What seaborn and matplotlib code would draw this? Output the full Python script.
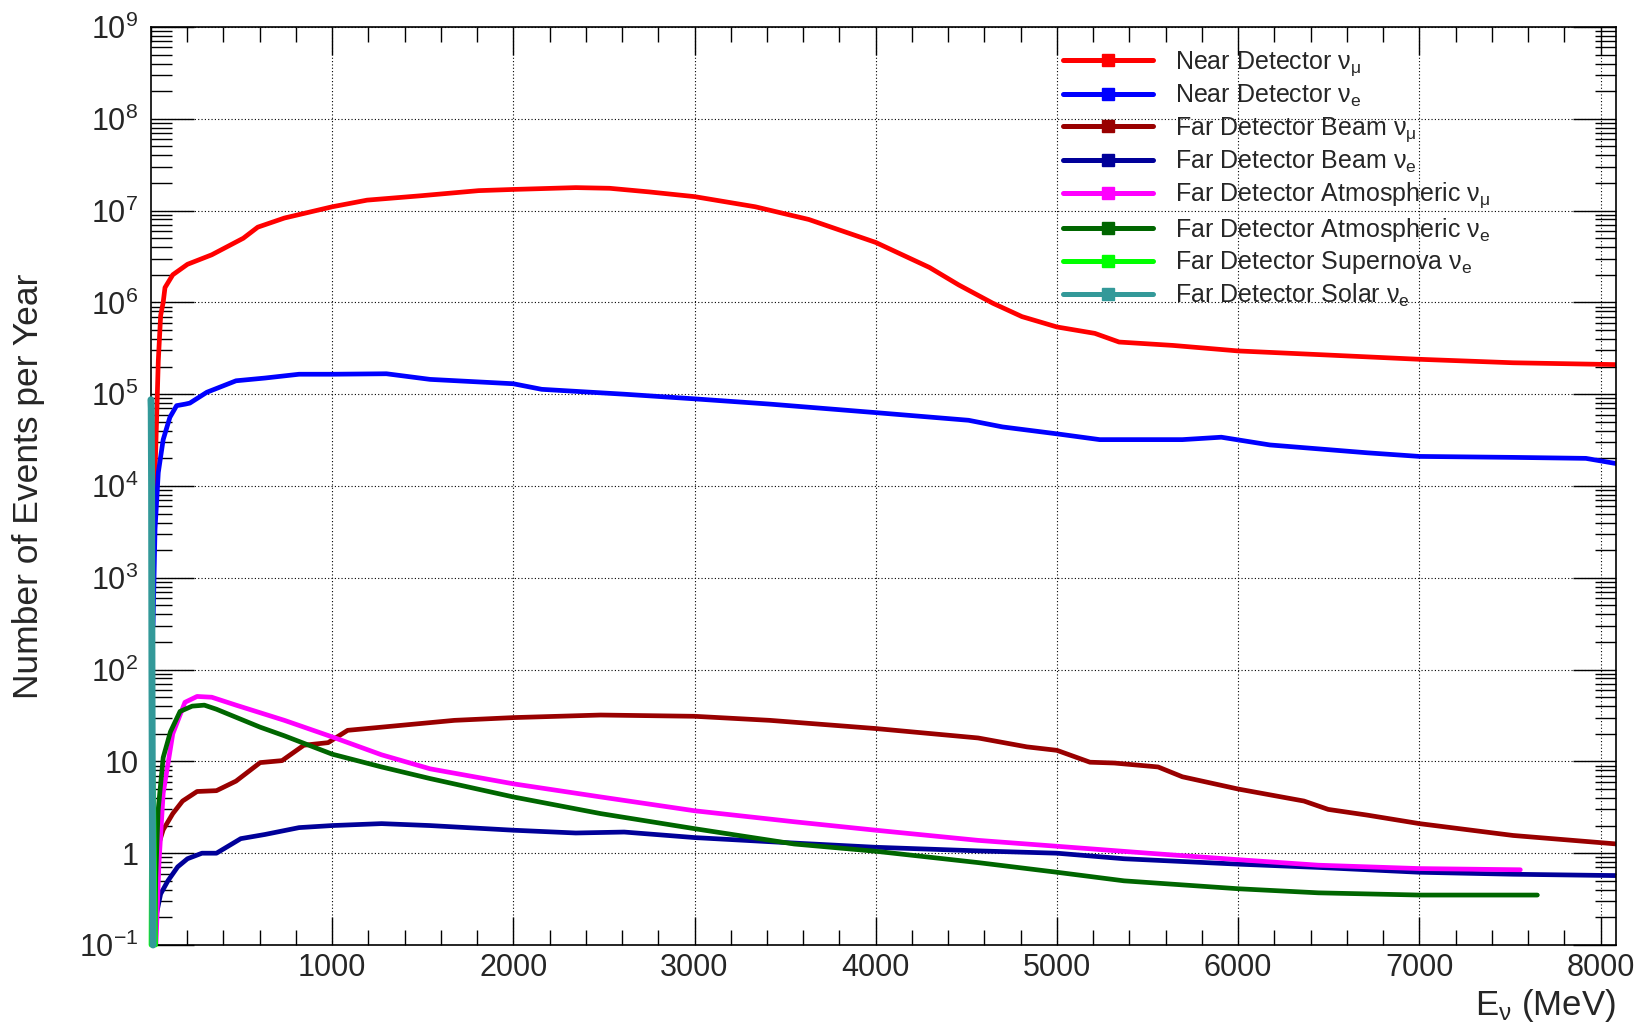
import numpy as np
import pandas as pd
import matplotlib
matplotlib.use("Agg")
import matplotlib.pyplot as plt
import seaborn as sns
from matplotlib.lines import Line2D
from matplotlib.ticker import FixedLocator, LogLocator, MultipleLocator, NullFormatter

# ---------------- data ----------------
nd_numu_E = [8, 14, 23, 32, 41, 54, 68, 78, 121, 202, 336, 510, 590, 737, 1000, 1193, 1488,
             1809, 2000, 2345, 2532, 2747, 3000, 3336, 3631, 4000, 4297, 4458, 4646, 4807,
             5000, 5209, 5343, 5639, 6000, 6443, 7000, 7517, 8090]
nd_numu_N = [1e3, 2.2e3, 1.4e4, 5.6e4, 2.3e5, 7.2e5, 1.0e6, 1.45e6, 2.0e6, 2.6e6, 3.3e6, 5.0e6,
             6.6e6, 8.3e6, 1.1e7, 1.3e7, 1.45e7, 1.65e7, 1.7e7, 1.78e7, 1.75e7, 1.6e7, 1.42e7,
             1.1e7, 8.0e6, 4.5e6, 2.4e6, 1.55e6, 9.8e5, 7.0e5, 5.4e5, 4.6e5, 3.7e5, 3.4e5,
             2.96e5, 2.7e5, 2.4e5, 2.2e5, 2.1e5]

nd_nue_E = [12, 23, 41, 68, 105, 142, 190, 215, 309, 470, 630, 818, 1000, 1300, 1541, 2000,
            2157, 2612, 3000, 3416, 4000, 4512, 4700, 5000, 5236, 5692, 5907, 6175, 6712,
            7000, 7517, 7919, 8090]
nd_nue_N = [3e2, 3.4e3, 1.4e4, 3.2e4, 5.6e4, 7.5e4, 7.8e4, 8.0e4, 1.05e5, 1.4e5, 1.5e5, 1.65e5,
            1.65e5, 1.67e5, 1.45e5, 1.3e5, 1.13e5, 1.0e5, 8.9e4, 7.8e4, 6.3e4, 5.2e4, 4.4e4,
            3.7e4, 3.2e4, 3.2e4, 3.4e4, 2.8e4, 2.3e4, 2.1e4, 2.05e4, 2.0e4, 1.75e4]

fd_beam_numu_E = [18, 30, 40, 68, 121, 175, 255, 362, 470, 603, 724, 844, 978, 1086, 1273,
                  1675, 2000, 2482, 3000, 3416, 4000, 4565, 4834, 5000, 5182, 5317, 5558,
                  5692, 6000, 6363, 6497, 6712, 7000, 7517, 8090]
fd_beam_numu_N = [0.1, 0.6, 1.2, 1.8, 2.7, 3.7, 4.7, 4.8, 6.1, 9.7, 10.2, 15, 16, 21.8, 23.6,
                  28, 30, 32, 31, 28, 22.8, 18, 14.4, 13.2, 9.8, 9.6, 8.7, 6.8, 5.0, 3.7, 3.0,
                  2.6, 2.1, 1.56, 1.26]

fd_beam_nue_E = [20, 27, 54, 94, 148, 202, 282, 362, 496, 630, 818, 1000, 1273, 1541, 2000,
                 2345, 2612, 3000, 3550, 4000, 4565, 5000, 5370, 6000, 6443, 7000, 7517, 8090]
fd_beam_nue_N = [0.1, 0.2, 0.36, 0.5, 0.71, 0.87, 1.0, 1.0, 1.44, 1.6, 1.9, 2.0, 2.1, 2.0,
                 1.78, 1.66, 1.7, 1.48, 1.29, 1.16, 1.06, 1.0, 0.87, 0.76, 0.7, 0.62, 0.59, 0.57]

fd_atm_numu_E = [28, 45, 68, 121, 188, 255, 336, 470, 737, 1000, 1273, 1541, 2000, 2482, 3000,
                 3550, 4000, 4565, 5000, 5504, 6000, 6443, 7000, 7557]
fd_atm_numu_N = [0.1, 0.8, 4.5, 20, 44, 51, 50, 41, 28, 18.5, 11.8, 8.3, 5.7, 4.1, 2.9, 2.2,
                 1.78, 1.38, 1.19, 1.0, 0.85, 0.74, 0.68, 0.66]

fd_atm_nue_E = [22, 27, 40, 68, 108, 161, 228, 295, 362, 603, 737, 1000, 1273, 1541, 2000,
                2482, 3000, 3550, 4000, 4565, 5000, 5370, 6000, 6443, 7000, 7651]
fd_atm_nue_N = [0.1, 0.55, 2.9, 11, 21, 35, 40, 41, 37, 23.6, 19, 12, 8.7, 6.5, 4.1, 2.7, 1.85,
                1.26, 1.05, 0.79, 0.62, 0.5, 0.41, 0.37, 0.35, 0.35]

fd_sn_nue_E = [1, 5, 10, 15, 20, 26]
fd_sn_nue_N = [0.1, 8, 10, 4, 0.8, 0.1]

fd_solar_nue_E = [0.5, 2, 4, 6, 9, 12]
fd_solar_nue_N = [8.7e4, 7e4, 1e4, 1e2, 1, 0.1]

labels = [r"Near Detector $\nu_{\mu}$", r"Near Detector $\nu_{e}$",
          r"Far Detector Beam $\nu_{\mu}$", r"Far Detector Beam $\nu_{e}$",
          r"Far Detector Atmospheric $\nu_{\mu}$", r"Far Detector Atmospheric $\nu_{e}$",
          r"Far Detector Supernova $\nu_{e}$", r"Far Detector Solar $\nu_{e}$"]
colors = ["#ff0000", "#0000ff", "#990000", "#000099", "#ff00ff", "#006600", "#00ff00", "#339999"]

y_tick_values = [1e-1, 1, 10, 1e2, 1e3, 1e4, 1e5, 1e6, 1e7, 1e8, 1e9]
y_tick_labels = [r"$10^{-1}$", "1", "10", r"$10^{2}$", r"$10^{3}$", r"$10^{4}$", r"$10^{5}$",
                 r"$10^{6}$", r"$10^{7}$", r"$10^{8}$", r"$10^{9}$"]
x_tick_values = [1000, 2000, 3000, 4000, 5000, 6000, 7000, 8000]
x_tick_labels = ["1000", "2000", "3000", "4000", "5000", "6000", "7000", "8000"]

series = [(nd_numu_E, nd_numu_N), (nd_nue_E, nd_nue_N),
          (fd_beam_numu_E, fd_beam_numu_N), (fd_beam_nue_E, fd_beam_nue_N),
          (fd_atm_numu_E, fd_atm_numu_N), (fd_atm_nue_E, fd_atm_nue_N),
          (fd_sn_nue_E, fd_sn_nue_N), (fd_solar_nue_E, fd_solar_nue_N)]

# ---------------- style ----------------
sns.set_style("ticks")
plt.rcParams["font.family"] = ["Liberation Sans", "DejaVu Sans"]
plt.rcParams["mathtext.default"] = "regular"

W, H = 1643, 1023
fig = plt.figure(figsize=(W / 100, H / 100), dpi=100)
L, R, T, B = 150.86, 1616, 27, 945
ax = fig.add_axes([L / W, 1 - B / H, (R - L) / W, (B - T) / H])

LW = 3.4
for i, ((E, N), lab, c) in enumerate(zip(series, labels, colors)):
    df = pd.DataFrame({"E": E, "N": N})
    edge = i >= 6  # supernova / solar lines sit on the left axis
    sns.lineplot(data=df, x="E", y="N", ax=ax, color=c,
                 lw=(5.0 if i == 7 else LW), estimator=None,
                 sort=False, clip_on=not edge, zorder=(3 if edge else 2), legend=False)

ax.set_yscale("log")
ax.set_xlim(0, 8085)
ax.set_ylim(1e-1, 1e9)

ax.yaxis.set_major_locator(FixedLocator(y_tick_values))
ax.set_yticklabels(y_tick_labels)
ax.yaxis.set_minor_locator(LogLocator(base=10, subs=np.arange(2, 10) * 1.0, numticks=100))
ax.yaxis.set_minor_formatter(NullFormatter())
ax.xaxis.set_major_locator(FixedLocator(x_tick_values))
ax.set_xticklabels(x_tick_labels)
ax.xaxis.set_minor_locator(MultipleLocator(200))

ax.tick_params(axis="x", which="major", direction="in", length=20, width=1.0,
               top=True, bottom=True, labelsize=22, pad=6, color="black")
ax.tick_params(axis="x", which="minor", direction="in", length=11, width=1.0,
               top=True, bottom=True, color="black")
ax.tick_params(axis="y", which="major", direction="in", length=31, width=1.0,
               left=True, right=True, labelsize=22, pad=9, color="black")
ax.tick_params(axis="y", which="minor", direction="in", length=15, width=1.0,
               left=True, right=True, color="black")

ax.grid(which="major", ls=(0, (1, 2)), color="black", lw=0.8)
for s in ax.spines.values():
    s.set_color("black")
    s.set_linewidth(1.2)

ax.set_xlabel(r"E$_{\nu}$ (MeV)", fontsize=25, loc="right")
ax.xaxis.set_label_coords(1.0, -0.0455)
ax.set_ylabel("Number of Events per Year", fontsize=25.5)
ax.yaxis.set_label_coords(-0.072, 0.50)

handles = [Line2D([0], [0], color=c, lw=3.6, marker="s", markersize=8,
                  markerfacecolor=c, markeredgecolor=c) for c in colors]
leg = fig.legend(handles, labels, loc="upper left",
                 bbox_to_anchor=(1063 / W, 1 - 49 / H), bbox_transform=fig.transFigure,
                 frameon=False, fontsize=18, handlelength=3.6, handletextpad=0.88,
                 labelspacing=0.22, borderpad=0, borderaxespad=0)

fig.savefig("out.png", dpi=100)
